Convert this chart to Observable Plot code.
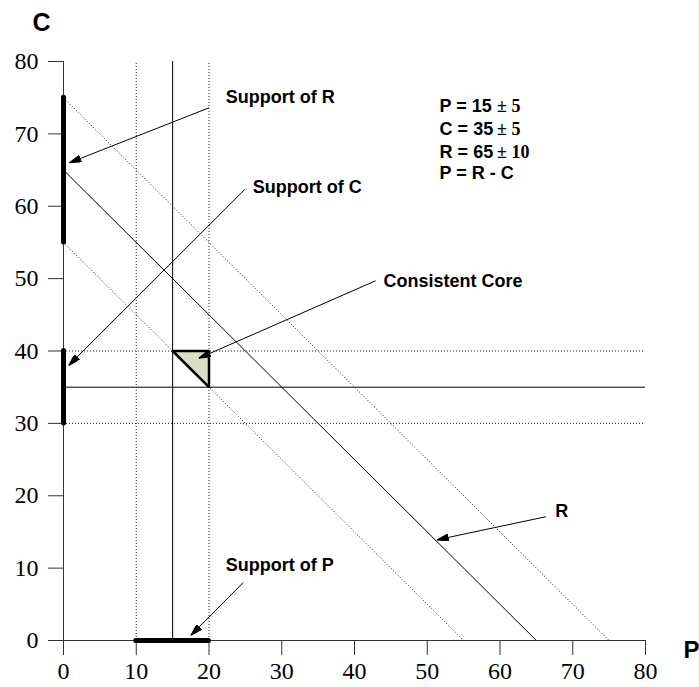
<!DOCTYPE html>
<html><head><meta charset="utf-8">
<script src="https://cdn.jsdelivr.net/npm/d3@7"></script>
<script src="https://cdn.jsdelivr.net/npm/@observablehq/plot@0.6"></script>
<style>body{margin:0;background:#fff}</style>
</head><body><div id="chart"></div>
<script>
// ---- data ----
const xTicks = [0, 10, 20, 30, 40, 50, 60, 70, 80];
const yTicks = [0, 10, 20, 30, 40, 50, 60, 70, 80];
const pSolid = [15], pDotted = [10, 20];          // P = 15 ± 5
const cSolid = [35], cDotted = [30, 40];          // C = 35 ± 5
const rSolid = [65], rDotted = [55, 75];          // R = 65 ± 10  (P + C = R)
const supportP = [{a: 10, b: 20}];
const supportC = [{a: 30, b: 40}];
const supportR = [{a: 55, b: 75}];
const coreP = [15, 20, 20, 15];
const coreC = [40, 40, 35, 40];
const arrowLabels = ["Support of R", "Support of C", "Consistent Core", "R", "Support of P"];
const arrowFromX = [20, 24.9, 42.9, 66.3, 24.7];
const arrowFromY = [73.6, 62.3, 49.7, 17.1, 8.0];
const arrowToX = [0.8, 0.7, 18.6, 51.3, 17.5];
const arrowToY = [66.0, 38.0, 39.0, 13.9, 0.7];
const labelX = [22.3, 26.0, 44.0, 67.6, 22.3];
const labelY = [75.1, 62.6, 49.7, 17.8, 10.4];
const eqLeft = ["P = 15", "C = 35", "R = 65"];
const eqRight = ["± 5", "± 5", "± 10"];
const eqLast = "P = R - C";
const eqY = [73.8, 70.6, 67.5, 64.5];

const arrows = arrowLabels.map((t, i) => ({t, x1: arrowFromX[i], y1: arrowFromY[i], x2: arrowToX[i], y2: arrowToY[i], lx: labelX[i], ly: labelY[i]}));
const eqs = eqLeft.map((t, i) => ({t, r: eqRight[i], y: eqY[i]}));
const core = coreP.map((p, i) => ({p, c: coreC[i]}));

const sans = "Liberation Sans, Arial, sans-serif";
const serif = "Liberation Serif, Times New Roman, serif";
const ink = "black";
const dotInk = "#222";

function headMarker(color) {
  const m = d3.create("svg:marker")
    .attr("viewBox", "-12 -3.5 12 7")
    .attr("markerWidth", 12).attr("markerHeight", 7)
    .attr("markerUnits", "userSpaceOnUse")
    .attr("refX", 0).attr("refY", 0)
    .attr("orient", "auto");
  m.append("path").attr("d", "M0,0L-12,-3.5L-12,3.5Z").attr("fill", color);
  return m.node();
}

const chart = Plot.plot({
  width: 699, height: 687,
  marginLeft: 63, marginRight: 54, marginTop: 61, marginBottom: 47,
  x: {domain: [0, 80]},
  y: {domain: [0, 80]},
  style: {background: "white"},
  marks: [
    // reference lines
    Plot.ruleX(pDotted, {y1: 0, y2: 80, stroke: dotInk, strokeDasharray: "1,2"}),
    Plot.ruleX(pSolid, {y1: 0, y2: 80, stroke: ink}),
    Plot.ruleY(cDotted, {x1: 0, x2: 80, stroke: dotInk, strokeDasharray: "1,2"}),
    Plot.ruleY(cSolid, {x1: 0, x2: 80, stroke: ink}),
    Plot.link(rDotted, {x1: 0, y1: d => d, x2: d => d, y2: 0, stroke: dotInk, strokeDasharray: "1,2"}),
    Plot.link(rSolid, {x1: 0, y1: d => d, x2: d => d, y2: 0, stroke: ink}),
    // consistent core
    Plot.areaY(core.slice(0, 3).filter((d, i) => i !== 1), {x: "p", y1: d => 55 - d.p, y2: 40, fill: "#d9dec6"}),
    Plot.line(core, {x: "p", y: "c", stroke: "black", strokeWidth: 2.5, strokeLinejoin: "miter"}),
    // axes
    Plot.axisX({ticks: xTicks, tickSize: 15, tickPadding: 6, fontSize: 24, fontFamily: serif, stroke: "#333", color: "black", label: null}),
    Plot.axisY({ticks: yTicks, tickSize: 15, tickPadding: 10, fontSize: 24, fontFamily: serif, stroke: "#333", color: "black", label: null}),
    Plot.ruleY([0], {x1: 0, x2: 80, stroke: "#333"}),
    Plot.ruleX([0], {y1: 0, y2: 80, stroke: "#333"}),
    // supports
    Plot.ruleX(supportR, {x: 0, y1: "a", y2: "b", stroke: "black", strokeWidth: 5, strokeLinecap: "round"}),
    Plot.ruleX(supportC, {x: 0, y1: "a", y2: "b", stroke: "black", strokeWidth: 5, strokeLinecap: "round"}),
    Plot.ruleY(supportP, {y: 0, x1: "a", x2: "b", stroke: "black", strokeWidth: 5, strokeLinecap: "round"}),
    // annotation arrows
    Plot.link(arrows, {x1: "x1", y1: "y1", x2: "x2", y2: "y2", stroke: "black", strokeWidth: 1, markerEnd: headMarker}),
    Plot.text(arrows, {x: "lx", y: "ly", text: "t", textAnchor: "start", fontFamily: sans, fontWeight: "bold", fontSize: 18, fill: "black"}),
    // equations
    Plot.text(eqs, {x: 51.7, y: "y", text: "t", textAnchor: "start", fontFamily: sans, fontWeight: "bold", fontSize: 18, fill: "black"}),
    Plot.text(eqs, {x: 59.6, y: "y", text: "r", textAnchor: "start", fontFamily: serif, fontWeight: "bold", fontSize: 18, fill: "black"}),
    Plot.text([eqLast], {x: 51.7, y: eqY[3], text: d => d, textAnchor: "start", fontFamily: sans, fontWeight: "bold", fontSize: 18, fill: "black"}),
    // axis names
    Plot.text(["C"], {x: 0, y: 80, dx: -22, dy: -39, text: d => d, fontFamily: sans, fontWeight: "bold", fontSize: 25, fill: "black"}),
    Plot.text(["P"], {x: 80, y: 0, dx: 38, dy: 10, text: d => d, textAnchor: "start", fontFamily: sans, fontWeight: "bold", fontSize: 24, fill: "black"})
  ]
});
document.getElementById("chart").append(chart);
</script>
</body></html>
